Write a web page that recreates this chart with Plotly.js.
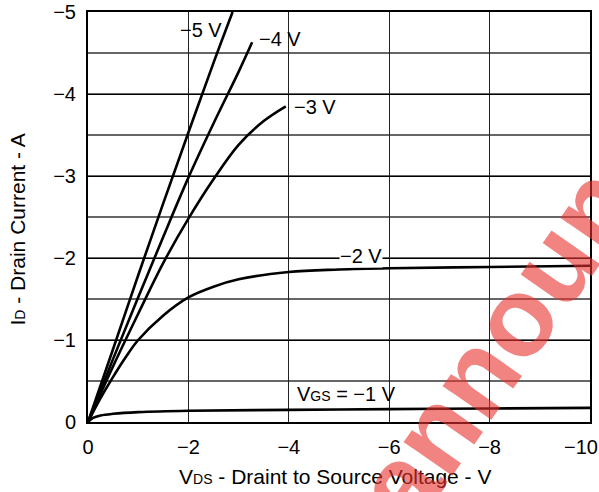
<!DOCTYPE html>
<html>
<head>
<meta charset="utf-8">
<script src="https://cdn.plot.ly/plotly-3.0.1.min.js"></script>
<style>html,body{margin:0;padding:0;background:#fff;}#chart{width:599px;height:492px;}</style>
</head>
<body>
<div id="chart"></div>
<script>
// V_DS (V) and I_D (A), one pair of arrays per V_GS curve
const vds_m5 = [0, -0.5, -1, -1.5, -2, -2.5, -2.88];
const id_m5  = [0, -0.89, -1.79, -2.67, -3.53, -4.38, -5.0];

const vds_m4 = [0, -0.5, -1, -1.5, -2, -2.5, -3, -3.27];
const id_m4  = [0, -0.77, -1.52, -2.26, -2.98, -3.64, -4.27, -4.63];

const vds_m3 = [0, -0.5, -1, -1.5, -2, -2.5, -3, -3.5, -3.94];
const id_m3  = [0, -0.68, -1.32, -1.94, -2.48, -2.96, -3.38, -3.67, -3.85];

const vds_m2 = [0, -0.25, -0.5, -0.75, -1, -1.5, -2, -2.5, -3, -4, -5, -6, -8, -10];
const id_m2  = [0, -0.29, -0.55, -0.79, -1.0, -1.3, -1.52, -1.65, -1.74, -1.83, -1.86, -1.875, -1.89, -1.905];

const vds_m1 = [0, -0.1, -0.25, -0.5, -1, -2, -4, -6, -8, -10];
const id_m1  = [0, -0.05, -0.08, -0.1, -0.12, -0.137, -0.148, -0.157, -0.165, -0.172];

const xTickVals = [0, -2, -4, -6, -8];
const xTickText = ["0", "\u22122", "\u22124", "\u22126", "\u22128"];
const xLastTick = "\u221210";
const yTickVals = [0, -1, -2, -3, -4, -5];
const yTickText = ["0", "\u22121", "\u22122", "\u22123", "\u22124", "\u22125"];

// curve labels: [text, V_DS, I_D]
const curveLabels = [
  ["\u22125 V", -2.25, -4.78],
  ["\u22124 V", -3.82, -4.67],
  ["\u22123 V", -4.52, -3.84],
  ["\u22122 V", -5.44, -2.02],
  ["V<span style=\"font-size:14px\">GS</span> = \u22121 V", -5.14, -0.34]
];

const FONT = "Liberation Sans, Arial, sans-serif";
const lineStyle = {color: "#000", width: 2.6, shape: "spline", smoothing: 1};

const series = [[vds_m5, id_m5], [vds_m4, id_m4], [vds_m3, id_m3], [vds_m2, id_m2], [vds_m1, id_m1]];
const traces = series.map(s => ({
  x: s[0], y: s[1], type: "scatter", mode: "lines", line: lineStyle,
  hoverinfo: "skip", showlegend: false, cliponaxis: true
}));

const annotations = curveLabels.map((l, i) => ({
  text: l[0], x: l[1], y: l[2], xref: "x", yref: "y", showarrow: false,
  xanchor: "center", yanchor: "middle",
  font: {family: FONT, size: 20, color: "#000"},
  bgcolor: i === 3 ? "#fff" : "rgba(0,0,0,0)", borderpad: 0
}));

// last x tick label, pulled in from the right edge like the reference
annotations.push({
  text: xLastTick, xref: "paper", yref: "paper", x: 1, y: 0, xshift: 9, yshift: -13,
  xanchor: "right", yanchor: "top", showarrow: false, borderpad: 0,
  font: {family: FONT, size: 20, color: "#000"}
});

annotations.push({
  text: "V<span style=\"font-size:14px\">DS</span> - Draint to Source Voltage - V",
  xref: "paper", yref: "paper", x: 0.492, y: -0.132, showarrow: false,
  xanchor: "center", yanchor: "middle", font: {family: FONT, size: 21, color: "#000"}
});
annotations.push({
  text: "I<span style=\"font-size:14px\">D</span> - Drain Current - A",
  xref: "paper", yref: "paper", x: -0.141, y: 0.47, showarrow: false, textangle: -90,
  xanchor: "center", yanchor: "middle", font: {family: FONT, size: 21, color: "#000"}
});
annotations.push({
  text: "<b>announce</b>",
  xref: "paper", yref: "paper", x: 0.885, y: 0.31, showarrow: false, textangle: -55,
  xanchor: "center", yanchor: "middle", opacity: 0.6,
  font: {family: FONT, size: 112, color: "#e8322f"}
});

const layout = {
  width: 599, height: 492,
  margin: {l: 88, r: 9, t: 12, b: 70},
  paper_bgcolor: "#fff", plot_bgcolor: "#fff",
  font: {family: FONT, size: 20, color: "#000"},
  xaxis: {
    range: [0, -10], tickvals: xTickVals, ticktext: xTickText,
    showgrid: true, gridcolor: "#222", gridwidth: 1,
    zeroline: false, showline: true, mirror: true, linecolor: "#000", linewidth: 2,
    ticks: "outside", ticklen: 6, tickcolor: "rgba(0,0,0,0)",
    tickfont: {family: FONT, size: 20, color: "#000"}
  },
  yaxis: {
    range: [0, -5], tickvals: yTickVals, ticktext: yTickText,
    showgrid: true, gridcolor: "#000", gridwidth: 1,
    minor: {dtick: 0.5, showgrid: true, gridcolor: "#666", gridwidth: 1.5, ticks: ""},
    zeroline: false, showline: true, mirror: true, linecolor: "#000", linewidth: 2,
    ticks: "outside", ticklen: 6, tickcolor: "rgba(0,0,0,0)",
    tickfont: {family: FONT, size: 20, color: "#000"}
  },
  annotations: annotations
};

Plotly.newPlot("chart", traces, layout, {staticPlot: true, displayModeBar: false});
</script>
</body>
</html>
